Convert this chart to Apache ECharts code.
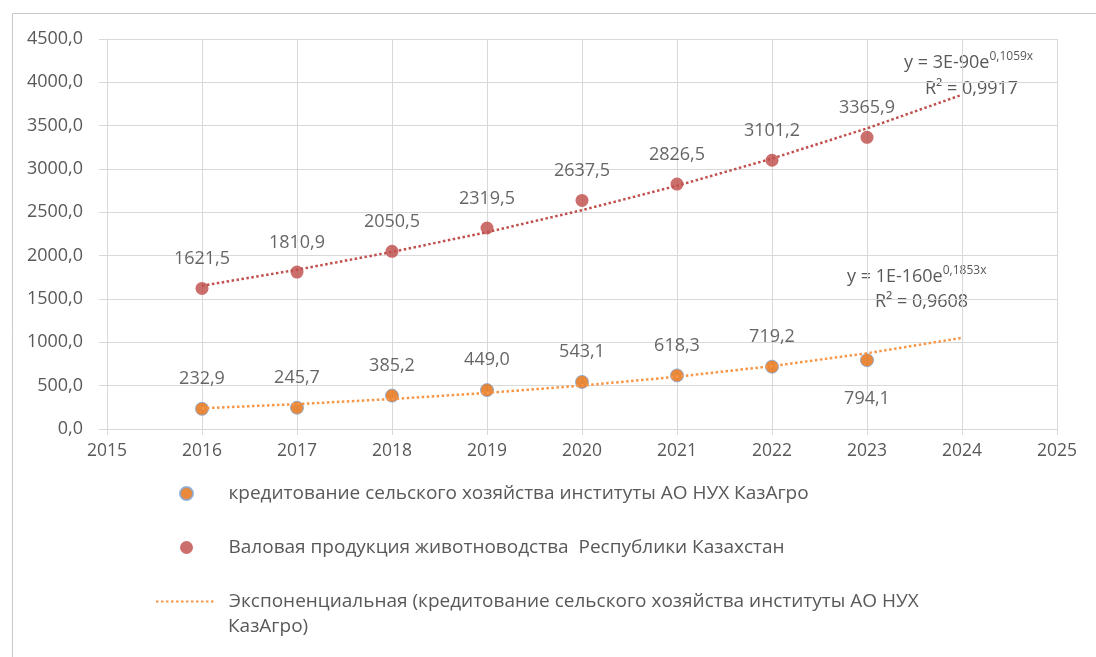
<!DOCTYPE html>
<html>
<head>
<meta charset="utf-8">
<script src="https://cdn.jsdelivr.net/npm/echarts@6/dist/echarts.min.js"></script>
<style>
html,body{margin:0;padding:0;background:#fff;}
#chart{width:1096px;height:657px;}
</style>
</head>
<body>
<div id="chart"></div>
<script>
const years = [2016, 2017, 2018, 2019, 2020, 2021, 2022, 2023];
const creditValues = [232.9, 245.7, 385.2, 449.0, 543.1, 618.3, 719.2, 794.1];
const livestockValues = [1621.5, 1810.9, 2050.5, 2319.5, 2637.5, 2826.5, 3101.2, 3365.9];
const trendYears = [2016, 2017, 2018, 2019, 2020, 2021, 2022, 2023, 2024];
const trendCredit = [238.8, 287.4, 345.9, 416.4, 501.2, 603.2, 726.0, 873.8, 1051.7];
const trendLivestock = [1653, 1837.7, 2043.0, 2271.2, 2524.9, 2806.9, 3120.5, 3469.1, 3856.6];
const yTicks = [0, 500, 1000, 1500, 2000, 2500, 3000, 3500, 4000, 4500];
const xTicks = [2015, 2016, 2017, 2018, 2019, 2020, 2021, 2022, 2023, 2024, 2025];

const nameCredit = 'кредитование сельского хозяйства институты АО НУХ КазАгро';
const nameLivestock = 'Валовая продукция животноводства  Республики Казахстан';
const nameTrendCredit = 'Экспоненциальная (кредитование сельского хозяйства институты АО НУХ КазАгро)';
const nameTrendLivestock = 'Экспоненциальная (Валовая продукция животноводства  Республики Казахстан)';

const FONT = '"Open Sans", "Noto Sans", sans-serif';
const TXT = '#595959';
const fmt = v => v.toFixed(1).replace('.', ',');

const chart = echarts.init(document.getElementById('chart'), null, {renderer: 'canvas'});

const creditData = years.map((x, i) => {
  const d = {value: [x, creditValues[i]]};
  if (i === creditValues.length - 1) {
    d.label = {position: 'bottom', distance: 23};
  }
  return d;
});

const eqRich = {
  a: {fontSize: 18, fontFamily: FONT, fill: TXT, verticalAlign: 'bottom'},
  s: {fontSize: 12, fontFamily: FONT, fill: TXT, verticalAlign: 'top', padding: [0, 0, 9, 0]}
};

chart.setOption({
  animation: false,
  backgroundColor: '#fff',
  textStyle: {fontFamily: FONT},
  grid: {left: 107, right: 39, top: 39, bottom: 228, containLabel: false},
  xAxis: {
    type: 'value', min: xTicks[0], max: xTicks[xTicks.length - 1], interval: 1,
    axisLine: {show: true, lineStyle: {color: '#d9d9d9', width: 1}},
    axisTick: {show: true, length: 6, lineStyle: {color: '#d9d9d9'}},
    splitLine: {show: true, lineStyle: {color: '#d9d9d9', width: 1}},
    axisLabel: {color: TXT, fontSize: 17.5, fontFamily: FONT, margin: 13, formatter: v => String(v)}
  },
  yAxis: {
    type: 'value', min: yTicks[0], max: yTicks[yTicks.length - 1], interval: 500,
    axisLine: {show: true, lineStyle: {color: '#d9d9d9', width: 1}},
    axisTick: {show: true, length: 8, lineStyle: {color: '#d9d9d9'}},
    splitLine: {show: true, lineStyle: {color: '#d9d9d9', width: 1}},
    axisLabel: {color: TXT, fontSize: 18, fontFamily: FONT, margin: 24, formatter: v => fmt(v)}
  },
  legend: [
    {
      orient: 'vertical', left: 174, top: 479, itemGap: 35,
      itemWidth: 74, itemHeight: 13,
      textStyle: {color: TXT, fontSize: 19, fontFamily: FONT},
      data: [nameCredit, nameLivestock]
    },
    {
      orient: 'vertical', left: 150, top: 587,
      itemWidth: 58, itemHeight: 13,
      itemStyle: {opacity: 0},
      textStyle: {color: TXT, fontSize: 19, fontFamily: FONT, padding: [0, 0, 0, 10]},
      formatter: () => 'Экспоненциальная (кредитование сельского хозяйства институты АО НУХ',
      data: [nameTrendCredit]
    }
  ],
  graphic: [
    {type: 'rect', left: 10, top: 11, silent: true, z: -10,
     shape: {width: 1200, height: 700}, style: {fill: 'none', stroke: '#c8c8c8', lineWidth: 1}},
    {type: 'text', left: 228, top: 617, silent: true,
     style: {text: 'КазАгро)', fill: TXT, font: '19px ' + FONT}},
    {type: 'text', left: 904, top: 51, silent: true,
     style: {text: '{a|y = 3E-90e}{s|0,1059x}', fill: TXT, rich: eqRich}},
    {type: 'text', left: 925, top: 80, silent: true,
     style: {text: 'R² = 0,9917', fill: TXT, font: '18px ' + FONT}},
    {type: 'text', left: 847, top: 265, silent: true,
     style: {text: '{a|y = 1E-160e}{s|0,1853x}', fill: TXT, rich: eqRich}},
    {type: 'text', left: 875, top: 293, silent: true,
     style: {text: 'R² = 0,9608', fill: TXT, font: '18px ' + FONT}}
  ],
  series: [
    {
      name: nameCredit, type: 'scatter', symbol: 'circle', symbolSize: 13, z: 3,
      itemStyle: {color: '#E46C0A', borderColor: '#7EA6D8', borderWidth: 1},
      label: {show: true, position: 'top', distance: 14, color: '#404040', fontSize: 18, fontFamily: FONT,
              formatter: p => fmt(p.value[1])},
      data: creditData
    },
    {
      name: nameLivestock, type: 'scatter', symbol: 'circle', symbolSize: 13, z: 3,
      itemStyle: {color: '#BE4B48'},
      label: {show: true, position: 'top', distance: 14, color: '#404040', fontSize: 18, fontFamily: FONT,
              formatter: p => fmt(p.value[1])},
      data: years.map((x, i) => [x, livestockValues[i]])
    },
    {
      name: nameTrendCredit, type: 'line', symbol: 'none', z: 4, silent: true,
      itemStyle: {color: '#F79646'},
      lineStyle: {color: '#F79646', width: 2.5, type: [2.5, 2.5]},
      data: trendYears.map((x, i) => [x, trendCredit[i]])
    },
    {
      name: nameTrendLivestock, type: 'line', symbol: 'none', z: 4, silent: true,
      itemStyle: {color: '#C0504D'},
      lineStyle: {color: '#C0504D', width: 2.5, type: [2.5, 2.5]},
      data: trendYears.map((x, i) => [x, trendLivestock[i]])
    }
  ]
});
</script>
</body>
</html>
